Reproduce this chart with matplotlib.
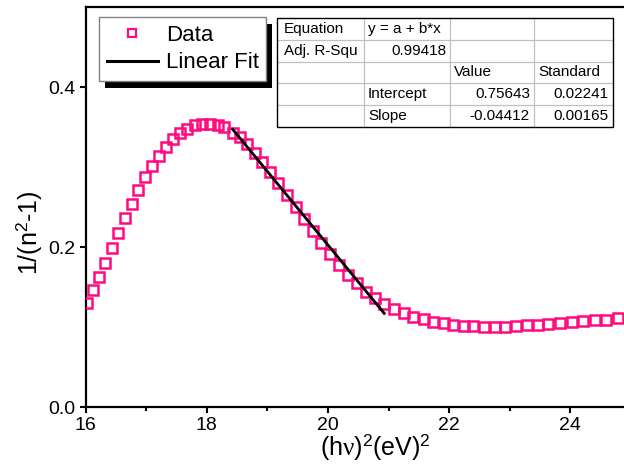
import matplotlib
matplotlib.use('Agg')
import matplotlib.pyplot as plt
from matplotlib.patches import Rectangle
from matplotlib.lines import Line2D

plt.rcParams['font.family'] = ['Liberation Sans', 'DejaVu Sans']
plt.rcParams['mathtext.fontset'] = 'custom'
plt.rcParams['mathtext.rm'] = 'Liberation Sans'
plt.rcParams['mathtext.it'] = 'Liberation Serif'
plt.rcParams['mathtext.bf'] = 'Liberation Sans:bold'

## measured curve: (h nu)^2 in eV^2 vs 1/(n^2-1)
energy_sq = [16.02, 16.12, 16.22, 16.32, 16.44, 16.54, 16.65, 16.76, 16.87, 16.98,
             17.10, 17.21, 17.33, 17.44, 17.56, 17.68, 17.81, 17.93, 18.05, 18.18,
             18.29, 18.43, 18.55, 18.67, 18.80, 18.92, 19.05, 19.18, 19.33, 19.47,
             19.61, 19.75, 19.89, 20.04, 20.18, 20.33, 20.48, 20.63, 20.78, 20.93,
             21.09, 21.26, 21.41, 21.58, 21.74, 21.91, 22.07, 22.24, 22.40, 22.58,
             22.75, 22.92, 23.10, 23.28, 23.46, 23.64, 23.83, 24.02, 24.21, 24.40,
             24.59, 24.79]
inv_n = [0.1304, 0.1463, 0.1629, 0.1804, 0.1991, 0.2179, 0.2366, 0.2541, 0.2716, 0.2871,
         0.3016, 0.3141, 0.3254, 0.3346, 0.3429, 0.3479, 0.3521, 0.3538, 0.3538, 0.3521,
         0.3494, 0.3425, 0.3369, 0.3284, 0.3171, 0.3059, 0.2934, 0.2794, 0.2650, 0.2500,
         0.2350, 0.2200, 0.2054, 0.1913, 0.1775, 0.1656, 0.1550, 0.1441, 0.1359, 0.1288,
         0.1221, 0.1171, 0.1125, 0.1096, 0.1066, 0.1046, 0.1029, 0.1016, 0.1009, 0.1004,
         0.1004, 0.1004, 0.1013, 0.1021, 0.1029, 0.1038, 0.1054, 0.1063, 0.1071, 0.1084,
         0.1091, 0.1116]

## linear fit segment
fit_x = [18.43, 20.93]
fit_y = [0.347, 0.117]

## fit results box
fit_table = [
    ["Equation", "y = a + b*x", "", ""],
    ["Adj. R-Squ", "0.99418", "", ""],
    ["", "", "Value", "Standard"],
    ["", "Intercept", "0.75643", "0.02241"],
    ["", "Slope", "-0.04412", "0.00165"],
]

xticks = [16, 18, 20, 22, 24]
yticks = [0.0, 0.2, 0.4]

W, H = 624, 471
pink = '#ff0a80'

fig = plt.figure(figsize=(W / 100, H / 100), dpi=100)
ax = fig.add_axes([85.5 / W, 64 / H, 545.4 / W, 400 / H])

ax.plot(energy_sq, inv_n, 's', mfc='none', mec=pink, ms=7.0, mew=1.8, zorder=3)
ax.plot(fit_x, fit_y, '-', color='black', lw=2.0, zorder=4)

ax.set_xlim(16, 25)
ax.set_ylim(0, 0.5)
ax.set_xticks(xticks)
ax.set_xticks([17, 19, 21, 23, 25], minor=True)
ax.set_yticks(yticks)
ax.set_yticklabels(['%.1f' % v for v in yticks])
for s in ax.spines.values():
    s.set_linewidth(1.6)
ax.tick_params(which='major', direction='out', length=4, width=1.5, labelsize=14, pad=3)
ax.tick_params(which='minor', direction='out', length=3, width=1.5)

ax.set_xlabel('(h$\\nu$)$^2$(eV)$^2$', fontsize=18)
ax.xaxis.set_label_coords(0.531, -0.062)
ax.xaxis.label.set_va('top')
ax.set_ylabel('1/(n$^2$-1)', fontsize=18)
ax.yaxis.set_label_coords(-0.076, 0.435)

# legend with a hard black drop shadow
handles = [Line2D([], [], ls='none', marker='s', mfc='none', mec=pink, ms=5.5, mew=1.6),
           Line2D([], [], color='black', lw=2.2)]
leg = ax.legend(handles, ['Data', 'Linear Fit'], loc='upper left',
                bbox_to_anchor=(99 / W, 1 - 17 / H), bbox_transform=fig.transFigure,
                fontsize=16, frameon=True, fancybox=False, framealpha=1,
                borderaxespad=0, handlelength=2.3, handletextpad=0.35,
                labelspacing=0.3, borderpad=0.35)
leg.get_frame().set_edgecolor('#808080')
leg.get_frame().set_linewidth(1.0)
leg.set_zorder(6)
fig.canvas.draw()
bb = leg.get_frame().get_window_extent().transformed(fig.transFigure.inverted())
ax.add_patch(Rectangle((bb.x0 + 6 / W, bb.y0 - 7 / H), bb.width, bb.height,
                       transform=fig.transFigure, facecolor='black', edgecolor='none',
                       clip_on=False, zorder=5))

# fit table drawn in figure pixels
col_edges = [277, 364, 450, 534, 613]
row_edges = [18, 39.8, 61.6, 83.4, 105.2, 127]
fig.add_artist(Rectangle((col_edges[0] / W, 1 - row_edges[-1] / H),
                         (col_edges[-1] - col_edges[0]) / W,
                         (row_edges[-1] - row_edges[0]) / H,
                         transform=fig.transFigure, facecolor='white', edgecolor='none',
                         zorder=7))
for cx in col_edges[1:-1]:
    fig.add_artist(Line2D([cx / W, cx / W], [1 - row_edges[0] / H, 1 - row_edges[-1] / H],
                          transform=fig.transFigure, color='#c0c0c0', lw=0.9, zorder=8))
for ry in row_edges[1:-1]:
    fig.add_artist(Line2D([col_edges[0] / W, col_edges[-1] / W], [1 - ry / H, 1 - ry / H],
                          transform=fig.transFigure, color='#c0c0c0', lw=0.9, zorder=8))
fig.add_artist(Rectangle((col_edges[0] / W, 1 - row_edges[-1] / H),
                         (col_edges[-1] - col_edges[0]) / W,
                         (row_edges[-1] - row_edges[0]) / H,
                         transform=fig.transFigure, facecolor='none', edgecolor='black',
                         lw=1.0, zorder=9))


def is_number(s):
    try:
        float(s)
        return True
    except ValueError:
        return False


for r, row in enumerate(fit_table):
    yc = 1 - (row_edges[r] + row_edges[r + 1]) / 2 / H
    for c, txt in enumerate(row):
        if not txt:
            continue
        if is_number(txt):
            fig.text((col_edges[c + 1] - 4) / W, yc, txt, ha='right', va='center',
                     fontsize=11, zorder=10)
        else:
            pad = 7 if c == 0 else 4
            fig.text((col_edges[c] + pad) / W, yc, txt, ha='left', va='center',
                     fontsize=11, zorder=10)

fig.savefig('out.png', dpi=100)
